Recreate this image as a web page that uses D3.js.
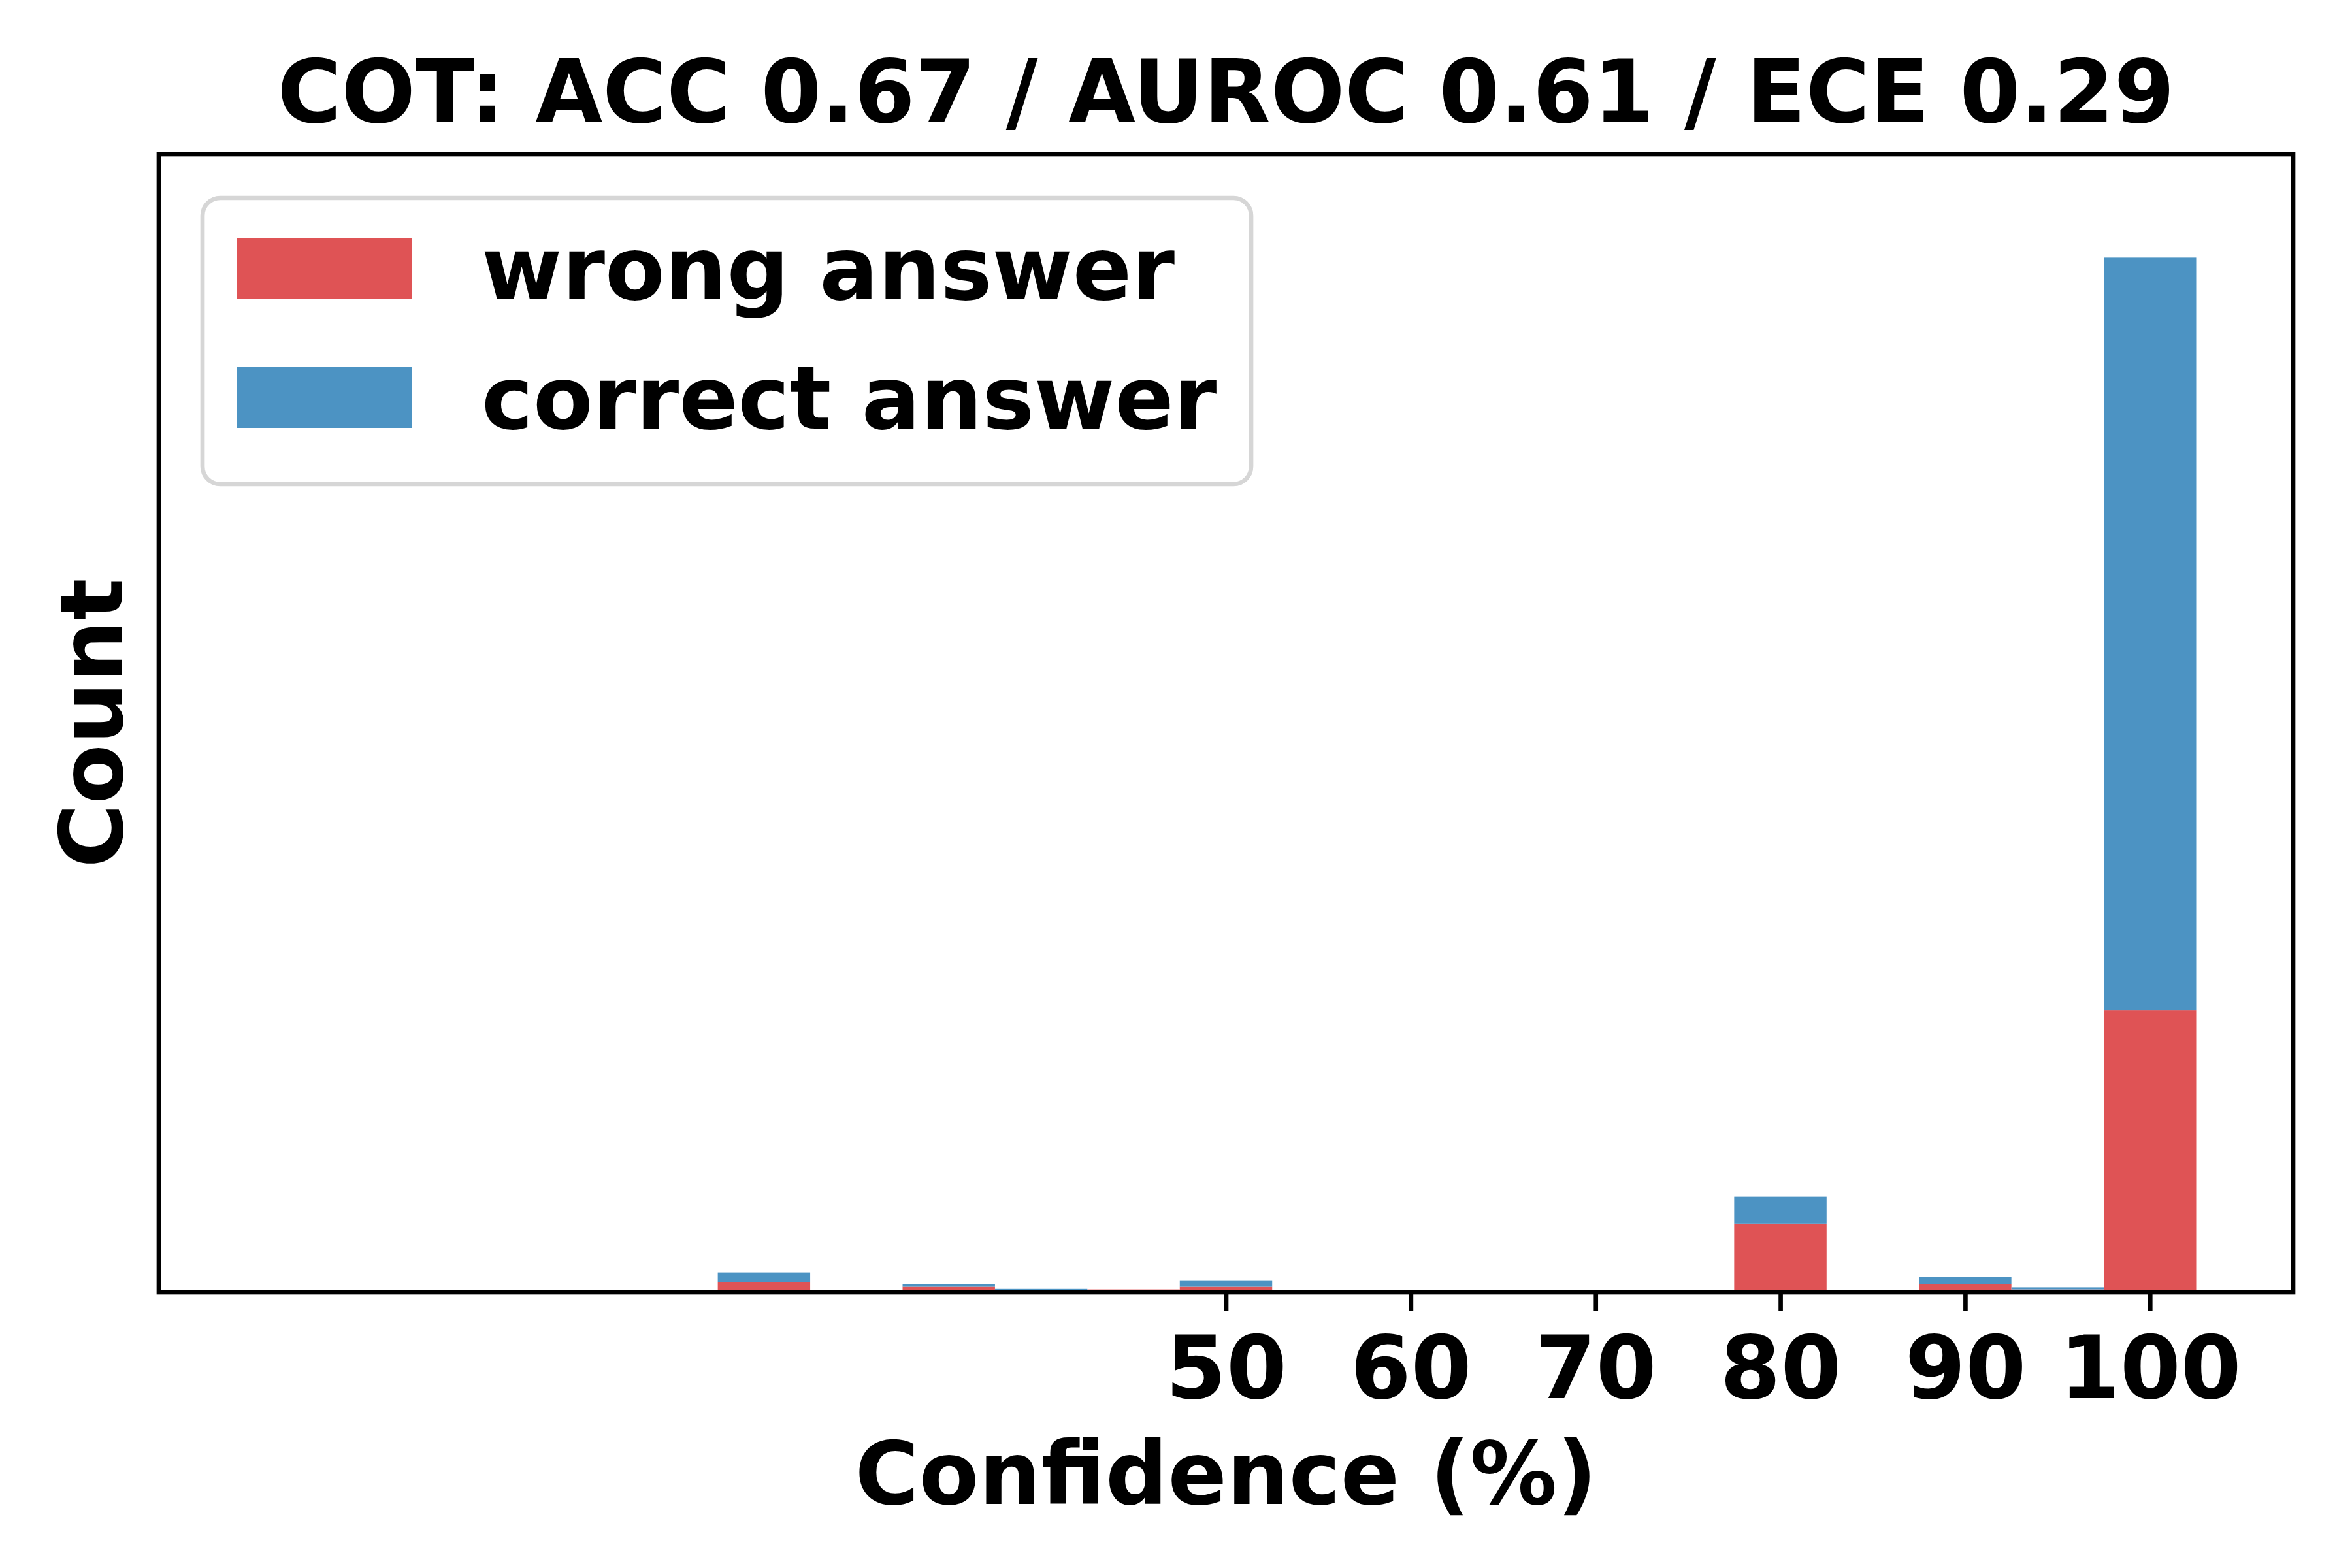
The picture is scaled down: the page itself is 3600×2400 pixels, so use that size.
<!DOCTYPE html>
<html>
<head>
<meta charset="utf-8">
<script src="https://cdn.jsdelivr.net/npm/d3@7"></script>
<style>
  html, body { margin: 0; padding: 0; background: #ffffff; }
  svg { display: block; }
  text { font-family: "DejaVu Sans", sans-serif; font-weight: bold; }
</style>
</head>
<body>
<svg id="chart" width="3600" height="2400"></svg>
<script>
// ---- data ----
const binCenters    = [25, 35, 40, 45, 50, 80, 90, 95, 100];
const wrongCounts   = [3.8, 2.1, 1.0, 1.1, 2.1, 26.3, 3.0, 1.1, 108];
const correctCounts = [3.8, 1.0, 0.3, 0.0, 2.5, 10.3, 3.0, 0.8, 288];
const binWidth = 5;
const xTickValues = [50, 60, 70, 80, 90, 100];
const seriesNames = ["wrong answer", "correct answer"];
const seriesColors = ["#df5355", "#4c93c3"];
const titleText = "COT: ACC 0.67 / AUROC 0.61 / ECE 0.29";
const xLabelText = "Confidence (%)";
const yLabelText = "Count";

// ---- layout ----
const plotLeft = 243, plotRight = 3510, plotTop = 236, plotBottom = 1978;
const fs = 133.33;          // 16pt at 600 dpi
const lw = 6.67;            // 0.8pt

const svg = d3.select("#chart");

const x = d3.scaleLinear().domain([-7.75, 107.75]).range([plotLeft, plotRight]);
const maxTotal = d3.max(binCenters.map((c, i) => wrongCounts[i] + correctCounts[i]));
const y = d3.scaleLinear().domain([0, maxTotal * 1.1]).range([plotBottom, plotTop]);

const rows = binCenters.map((c, i) => ({ c, wrong: wrongCounts[i], correct: correctCounts[i] }));
const stacked = d3.stack().keys(["wrong", "correct"])(rows);

const gBars = svg.append("g");
stacked.forEach((layer, li) => {
  gBars.append("g")
    .attr("fill", seriesColors[li])
    .selectAll("rect")
    .data(layer.filter(d => d[1] - d[0] > 0))
    .join("rect")
    .attr("x", d => x(d.data.c - binWidth / 2))
    .attr("width", d => x(d.data.c + binWidth / 2) - x(d.data.c - binWidth / 2))
    .attr("y", d => y(d[1]))
    .attr("height", d => y(d[0]) - y(d[1]));
});

// x axis ticks
const xAxis = d3.axisBottom(x).tickValues(xTickValues).tickSize(29).tickPadding(22).tickFormat(d3.format("d"));
const gx = svg.append("g").attr("transform", `translate(0,${plotBottom})`).call(xAxis);
gx.select(".domain").remove();
gx.selectAll(".tick line").attr("stroke", "#000").attr("stroke-width", lw);
gx.selectAll(".tick text")
  .attr("fill", "#000")
  .style("font-size", fs + "px")
  .style("font-weight", "bold")
  .style("font-family", '"DejaVu Sans", sans-serif')
  .attr("dy", null)
  .attr("y", 162);

// frame (spines)
svg.append("rect")
  .attr("x", plotLeft).attr("y", plotTop)
  .attr("width", plotRight - plotLeft).attr("height", plotBottom - plotTop)
  .attr("fill", "none").attr("stroke", "#000").attr("stroke-width", lw)
  .attr("stroke-linejoin", "miter");

// title
svg.append("text")
  .attr("x", (plotLeft + plotRight) / 2).attr("y", 187)
  .attr("text-anchor", "middle")
  .style("font-size", fs + "px")
  .text(titleText);

// x label
svg.append("text")
  .attr("x", (plotLeft + plotRight) / 2).attr("y", 2302)
  .attr("text-anchor", "middle")
  .style("font-size", fs + "px")
  .text(xLabelText);

// y label
svg.append("text")
  .attr("transform", `translate(187,${(plotTop + plotBottom) / 2}) rotate(-90)`)
  .attr("text-anchor", "middle")
  .style("font-size", fs + "px")
  .text(yLabelText);

// legend
const lg = svg.append("g");
lg.append("rect")
  .attr("x", 310).attr("y", 303)
  .attr("width", 1915 - 310).attr("height", 741 - 303)
  .attr("rx", 27).attr("ry", 27)
  .attr("fill", "rgba(255,255,255,0.8)")
  .attr("stroke", "#d6d6d6").attr("stroke-width", lw);
const legendRows = [
  { name: seriesNames[0], color: seriesColors[0], patchY: 365, baseY: 458 },
  { name: seriesNames[1], color: seriesColors[1], patchY: 562, baseY: 656 }
];
legendRows.forEach(r => {
  lg.append("rect").attr("x", 363).attr("y", r.patchY).attr("width", 267).attr("height", 93).attr("fill", r.color);
  lg.append("text").attr("x", 737).attr("y", r.baseY).style("font-size", fs + "px").text(r.name);
});
</script>
</body>
</html>
